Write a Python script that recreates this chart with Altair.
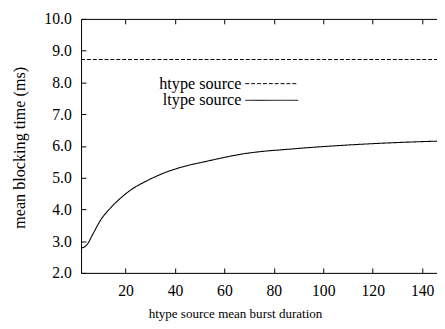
import altair as alt
import pandas as pd

# ltype source curve
x_ltype = [2, 4.3, 6.9, 10.2, 13.5, 18.2, 23.4, 28.1, 34.7, 42.6, 51.9, 68.5, 88.3, 108.2, 128, 146]
y_ltype = [2.78, 2.88, 3.24, 3.70, 4.01, 4.37, 4.68, 4.88, 5.12, 5.33, 5.50, 5.76, 5.91, 6.02, 6.10, 6.15]
# htype source (constant)
x_htype = [2, 146]
y_htype = [8.72, 8.72]

series_names = ["htype source", "ltype source"]
series_dash = [[4, 2], [1, 0]]
x_ticks = [20, 40, 60, 80, 100, 120, 140]
y_ticks = [2, 3, 4, 5, 6, 7, 8, 9, 10]

df = pd.concat([
    pd.DataFrame({"x": x_htype, "y": y_htype, "series": series_names[0]}),
    pd.DataFrame({"x": x_ltype, "y": y_ltype, "series": series_names[1]}),
])

W, H = 363, 259
FONT = "Liberation Serif"
TICK_FS = 16
TITLE_FS = 16.5
XTITLE_FS = 13.3
LEG_FS = 16.5

xs = alt.Scale(domain=[2, 146], nice=False, zero=False)
ys = alt.Scale(domain=[2, 10], nice=False, zero=False)

tick_axis = dict(ticks=True, tickSize=5, tickColor="black", tickWidth=1,
                 labels=False, grid=False, title=None)

main = alt.Chart(df).mark_line(color="black", strokeWidth=1.1, interpolate="monotone").encode(
    x=alt.X("x:Q", scale=xs, axis=alt.Axis(
        orient="bottom", values=x_ticks, ticks=False, domain=True, domainColor="black",
        domainWidth=1, grid=False,
        labelFont=FONT, labelFontSize=TICK_FS, labelColor="black", labelPadding=10,
        title="htype source mean burst duration", titleFont=FONT, titleFontSize=XTITLE_FS,
        titleFontWeight="normal", titleColor="black", titleX=157, titleY=45,
        titleBaseline="alphabetic", titleAlign="center")),
    y=alt.Y("y:Q", scale=ys, axis=alt.Axis(
        orient="left", values=y_ticks, format=".1f", ticks=False, domain=True,
        domainColor="black", domainWidth=1, grid=False,
        labelFont=FONT, labelFontSize=TICK_FS, labelColor="black", labelPadding=10,
        title="mean blocking time (ms)", titleFont=FONT, titleFontSize=TITLE_FS,
        titleFontWeight="normal", titleColor="black", titleX=-63, titleY=131,
        titleAngle=270, titleBaseline="middle", titleAlign="center")),
    strokeDash=alt.StrokeDash("series:N", scale=alt.Scale(domain=series_names, range=series_dash),
                              legend=None),
    detail="series:N",
)

ticks_a = alt.Chart(df).mark_line(strokeOpacity=0).encode(
    x=alt.X("x:Q", scale=xs, axis=alt.Axis(orient="top", offset=-H, values=x_ticks,
                                           domain=False, **tick_axis)),
    y=alt.Y("y:Q", scale=ys, axis=alt.Axis(orient="right", offset=-W, values=y_ticks,
                                           domain=False, **tick_axis)),
    detail="series:N",
)

ticks_b = alt.Chart(df).mark_line(strokeOpacity=0).encode(
    x=alt.X("x:Q", scale=xs, axis=alt.Axis(orient="bottom", offset=-H, values=x_ticks,
                                           domain=True, domainColor="black", domainWidth=1,
                                           **tick_axis)),
    y=alt.Y("y:Q", scale=ys, axis=None),
    detail="series:N",
)

# manual legend (label on the left, line sample on the right)
legend_layers = []
for i, name in enumerate(series_names):
    ly = 66 + 17 * i
    ldf = pd.DataFrame({"label": [name]})
    legend_layers.append(
        alt.Chart(ldf).mark_text(align="right", baseline="middle", font=FONT, fontSize=LEG_FS,
                                 color="black").encode(
            text="label:N", x=alt.value(163.5), y=alt.value(ly))
    )
    legend_layers.append(
        alt.Chart(ldf).mark_rule(color="black", strokeWidth=1, strokeDash=series_dash[i]).encode(
            x=alt.value(167.5), x2=alt.value(221.5), y=alt.value(ly))
    )

chart = alt.layer(main, ticks_a, ticks_b, *legend_layers).resolve_axis(
    x="independent", y="independent").properties(
    width=W, height=H,
    autosize=alt.AutoSizeParams(type="none"),
    padding={"left": 74.5, "top": 8, "right": 0, "bottom": 50},
).configure_view(stroke=None).configure(background="white")

chart.save("out.html", embed_options={"renderer": "svg", "actions": False})
